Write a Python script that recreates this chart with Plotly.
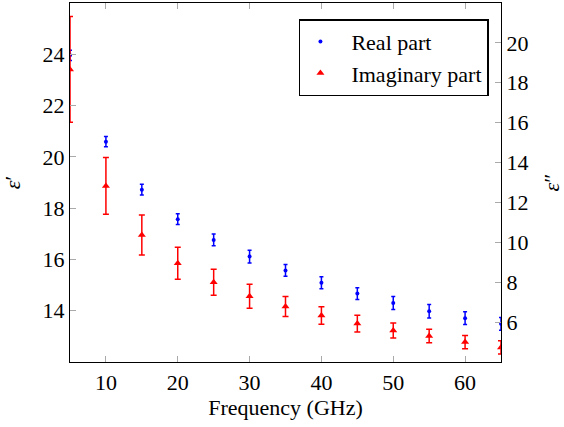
import plotly.graph_objects as go

FONT = "Liberation Serif"

freq = [5, 10, 15, 20, 25, 30, 35, 40, 45, 50, 55, 60, 65]
real_part = [23.96, 20.59, 18.72, 17.57, 16.76, 16.11, 15.57, 15.09, 14.67, 14.30, 13.98, 13.71, 13.49]
real_err = [0.2, 0.2, 0.21, 0.21, 0.23, 0.25, 0.23, 0.23, 0.23, 0.25, 0.26, 0.25, 0.25]
imag_part = [18.67, 12.83, 10.37, 8.95, 8.0, 7.30, 6.78, 6.33, 5.93, 5.58, 5.30, 5.0, 4.73]
imag_err = [2.65, 1.42, 1.0, 0.8, 0.65, 0.6, 0.5, 0.44, 0.42, 0.38, 0.34, 0.33, 0.33]

x_ticks = [10, 20, 30, 40, 50, 60]
y1_ticks = [14, 16, 18, 20, 22, 24]
y2_ticks = [6, 8, 10, 12, 14, 16, 18, 20]

fig = go.Figure()

fig.add_trace(go.Scatter(
    x=freq, y=real_part,
    mode="markers",
    name="\u00a0\u00a0Real part",
    marker=dict(size=4, color="blue", symbol="circle"),
    error_y=dict(type="data", array=real_err, color="blue", thickness=1.5, width=2),
    yaxis="y",
))
fig.add_trace(go.Scatter(
    x=freq, y=imag_part,
    mode="markers",
    name="\u00a0\u00a0Imaginary part",
    marker=dict(size=7, color="red", symbol="triangle-up"),
    error_y=dict(type="data", array=imag_err, color="red", thickness=1.5, width=3),
    yaxis="y2",
))

tick_style = dict(
    ticks="inside",
    ticklen=6,
    tickcolor="#aaaaaa",
    tickwidth=1,
    showgrid=False,
    zeroline=False,
    showline=True,
    linecolor="black",
    linewidth=1.3,
    automargin=False,
    tickfont=dict(family=FONT, size=22, color="black"),
)

fig.update_layout(
    width=564,
    height=427,
    margin=dict(l=70, r=63, t=3, b=65),
    paper_bgcolor="white",
    plot_bgcolor="white",
    font=dict(family=FONT, size=22, color="black"),
    xaxis=dict(
        range=[5, 65],
        tickvals=x_ticks,
        mirror="ticks",
        title=dict(text="Frequency (GHz)", font=dict(family=FONT, size=22), standoff=4),
        **tick_style,
    ),
    yaxis=dict(
        range=[12, 26],
        tickvals=y1_ticks,
        title=dict(text="<i>ε</i>′", font=dict(family=FONT, size=22), standoff=20),
        **tick_style,
    ),
    yaxis2=dict(
        range=[4, 22],
        tickvals=y2_ticks,
        overlaying="y",
        side="right",
        title=dict(text="<i>ε</i>″", font=dict(family=FONT, size=22), standoff=20),
        **tick_style,
    ),
    legend=dict(
        x=0.972, y=0.955,
        xanchor="right", yanchor="top",
        bgcolor="white",
        bordercolor="black",
        borderwidth=1.5,
        font=dict(family=FONT, size=22),
        tracegroupgap=0,
    ),
)

# drop the default 8px page margin so the figure sits at the window's corner
fig.write_html("out.html", config={"displayModeBar": False},
               post_script="document.body.style.margin='0';")
